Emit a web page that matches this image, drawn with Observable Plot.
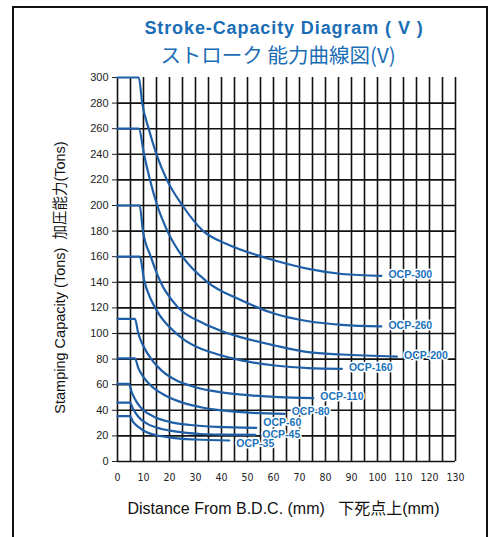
<!DOCTYPE html>
<html>
<head>
<meta charset="utf-8">
<script src="https://cdn.jsdelivr.net/npm/d3@7"></script>
<script src="https://cdn.jsdelivr.net/npm/@observablehq/plot@0.6"></script>
<style>
  html, body { margin: 0; padding: 0; background: #fff; }
  #wrap { position: relative; width: 492px; height: 537px; overflow: hidden; }
  #frame { position: absolute; left: 12px; top: 6px; width: 472px; height: 600px;
           border: 2px solid #111; border-bottom: none; }
  #title { position: absolute; left: 76px; width: 416px; top: 0; text-align: center; color: #1a6db5; }
  #t1 { font-family: "Liberation Sans", Arial, sans-serif; font-weight: bold; font-size: 18px; letter-spacing: 0.9px; margin-top: 17px; line-height: 22px; }
  #t2 { font-family: "Noto Sans CJK JP", sans-serif; font-size: 20.5px; margin-top: 2px; line-height: 26px; margin-left: -12px; }
  #chart { position: absolute; left: 0; top: 68px; }
</style>
</head>
<body>
<div id="wrap">
  <div id="frame"></div>
  <div id="title">
    <div id="t1">Stroke-Capacity Diagram ( V )</div>
    <div id="t2">ストローク 能力曲線図(V)</div>
  </div>
  <div id="chart"></div>
</div>
<script>
// ---- data (distance mm, capacity tons) ----
const ocp300 = [[0,300],[8.2,300],[9.5,280],[12,260],[15,240],[19,220],[25,200],[33,180],[42,170],[54,161],[60.5,157],[73.4,150.5],[86.3,146.5],[101.5,145]];
const ocp260 = [[0,260],[8.2,260],[10.2,240],[12.5,220],[15.3,200],[19.2,180],[25,160],[34.7,140],[47.6,126],[60.5,115.4],[73.4,109.6],[86.3,106.8],[101.5,105.5]];
const ocp200 = [[0,200],[8.5,200],[9.8,180],[12.8,160],[16.6,140],[23,121],[33,108],[40,102],[47.6,97],[60.5,90.6],[73.4,85.4],[86.3,83.6],[107.5,82]];
const ocp160 = [[0,160],[8.6,160],[10.2,142],[13,126],[16,115],[20,105],[25,96],[31,89],[38,84],[47.6,79],[60.5,75],[73.4,73],[86.3,72.4]];
const ocp110 = [[0,111.5],[6.7,111.5],[8,100],[10,90],[13,80],[17,71],[22,64],[30,58],[40,54],[52,51.5],[62,50.3],[75.3,49.5]];
const ocp80  = [[0,80.5],[6.7,80.5],[8,73],[10,66],[13,59],[18,52],[25,46],[33,42],[42,39.5],[52,38],[64.3,37.2]];
const ocp60  = [[0,60.7],[4.4,60.7],[5.5,54],[7.5,46],[10,40],[14,35],[20,31],[28,28.5],[38,27],[53.4,26.3]];
const ocp45  = [[0,46],[4.8,46],[6,41],[8,35],[11,30],[15,26.5],[22,23.5],[32,21.5],[42,21],[53,20.8]];
const ocp35  = [[0,35.4],[4.7,35.4],[6,31],[8,27],[11,23],[15,20.5],[22,18.3],[30,17.2],[43,16.4]];

const seriesNames = ["OCP-300","OCP-260","OCP-200","OCP-160","OCP-110","OCP-80","OCP-60","OCP-45","OCP-35"];
const seriesData  = [ocp300, ocp260, ocp200, ocp160, ocp110, ocp80, ocp60, ocp45, ocp35];
// label anchor value (tons)
const labelTons   = [146, 106, 82.5, 73, 50.5, 39, 30.5, 21, 14];

const xTickLabels = [0,10,20,30,40,50,60,70,80,90,100,110,120,130];
const yTickLabels = [0,20,40,60,80,100,120,140,160,180,200,220,240,260,280,300];
const xGrid = d3.range(0, 131, 5);
const yGrid = d3.range(20, 281, 20);

const rows = seriesNames.flatMap((name, i) => seriesData[i].map(([x, y]) => ({name, x, y})));
const labels = seriesNames.map((name, i) => {
  const last = seriesData[i][seriesData[i].length - 1];
  return {name, x: last[0], y: labelTons[i]};
});

const blue = "#1f5fa8";
const chart = Plot.plot({
  width: 492,
  height: 469,
  marginLeft: 117,
  marginRight: 37,
  marginTop: 9,
  marginBottom: 76,
  style: {fontFamily: "Liberation Sans, Arial, sans-serif", background: "transparent"},
  x: {domain: [0, 130]},
  y: {domain: [0, 300]},
  marks: [
    Plot.ruleX(xGrid, {y1: 0, y2: 300, stroke: "#111", strokeWidth: 1.6}),
    Plot.ruleY(yGrid, {x1: 0, x2: 130, stroke: "#111", strokeWidth: 1.6}),
    Plot.ruleY([0], {x1: 0, x2: 130, stroke: "#111", strokeWidth: 1.6}),
    Plot.axisY(yTickLabels, {anchor: "left", tickSize: 5, tickPadding: 4, fontSize: 11, color: "#222", label: null}),
    Plot.axisX(xTickLabels, {anchor: "bottom", tickSize: 0, tickPadding: 12, fontSize: 10.5, color: "#222", label: null, fontFamily: "DejaVu Sans Condensed, sans-serif"}),
    Plot.line(rows, {x: "x", y: "y", z: "name", stroke: blue, strokeWidth: 2.2, curve: "monotone-x"}),
    Plot.text(labels, {x: "x", y: "y", text: "name", textAnchor: "start", dx: 7, fill: "#1a72bb",
      fontWeight: "bold", fontSize: 10.5, stroke: "white", strokeWidth: 3}),
    Plot.text(["Distance From B.D.C. (mm)   下死点上(mm)"], {frameAnchor: "bottom", textAnchor: "middle", dx: -3, dy: 52, fontSize: 16, fill: "#111",
      fontFamily: "Liberation Sans, Noto Sans CJK JP, sans-serif"}),
    Plot.text(["Stamping Capacity (Tons)  加圧能力(Tons)"], {frameAnchor: "left", textAnchor: "middle", dx: -57, dy: 8, rotate: -90, fontSize: 14.5, fill: "#111",
      fontFamily: "Liberation Sans, Noto Sans CJK JP, sans-serif"})
  ]
});
document.getElementById("chart").appendChild(chart);
</script>
</body>
</html>
